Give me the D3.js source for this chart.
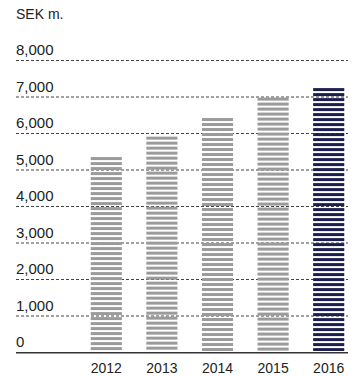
<!DOCTYPE html>
<html>
<head>
<meta charset="utf-8">
<script src="https://cdn.jsdelivr.net/npm/d3@7/dist/d3.min.js"></script>
<style>
  html, body { margin: 0; padding: 0; background: #fff; }
  svg { display: block; }
  text { font-family: "Liberation Sans", Arial, sans-serif; fill: #222; }
</style>
</head>
<body>
<svg id="chart" width="359" height="376"></svg>
<script>
// Net sales, SEK million
const years = ["2012", "2013", "2014", "2015", "2016"];
const sales = [5340, 5900, 6410, 6970, 7230];
const tickValues = [0, 1000, 2000, 3000, 4000, 5000, 6000, 7000, 8000];
const unitLabel = "SEK m.";

const svg = d3.select("#chart");
const left = 16, right = 348;

const y = d3.scaleLinear().domain([0, 8000]).range([352, 60]);
const x = d3.scaleBand().domain(years).range([78.5, 356.5])
  .paddingInner(0.44).paddingOuter(0.22);

const fmt = d3.format(",");

// unit label
svg.append("text").attr("x", left).attr("y", 19)
  .attr("font-size", 14).text(unitLabel);

// dashed gridlines with labels sitting above them
const grid = svg.append("g");
grid.selectAll("line").data(tickValues.filter(d => d > 0)).join("line")
  .attr("x1", left).attr("x2", right)
  .attr("y1", d => y(d) + 0.5).attr("y2", d => y(d) + 0.5)
  .attr("stroke", "#444").attr("stroke-width", 1)
  .attr("stroke-dasharray", "3,2");
grid.selectAll("text").data(tickValues).join("text")
  .attr("x", left).attr("y", d => y(d) - 5)
  .attr("font-size", 15).text(d => fmt(d));

// striped bars: horizontal bands stepping down from each bar top
const period = 5, band = 3;
const bars = svg.append("g");
years.forEach((yr, i) => {
  const top = y(sales[i]), bottom = y(0) - 1;
  const color = i === years.length - 1 ? "#1c1f4c" : "#9b9b9b";
  bars.append("g").selectAll("rect")
    .data(d3.range(top, bottom, period)).join("rect")
    .attr("x", x(yr)).attr("width", x.bandwidth())
    .attr("y", d => d).attr("height", d => Math.min(band, bottom - d))
    .attr("fill", color);
});

// baseline
svg.append("line").attr("x1", left).attr("x2", right)
  .attr("y1", y(0) + 0.75).attr("y2", y(0) + 0.75)
  .attr("stroke", "#333").attr("stroke-width", 1.5);

// year labels
const xAxis = d3.axisBottom(x).tickSize(0).tickPadding(0);
const ax = svg.append("g").attr("transform", `translate(0,${y(0) + 21})`).call(xAxis);
ax.select(".domain").remove();
ax.selectAll("text").attr("font-size", 14).attr("dy", 0)
  .style("font-family", '"Liberation Sans", Arial, sans-serif').attr("fill", "#222");
</script>
</body>
</html>
